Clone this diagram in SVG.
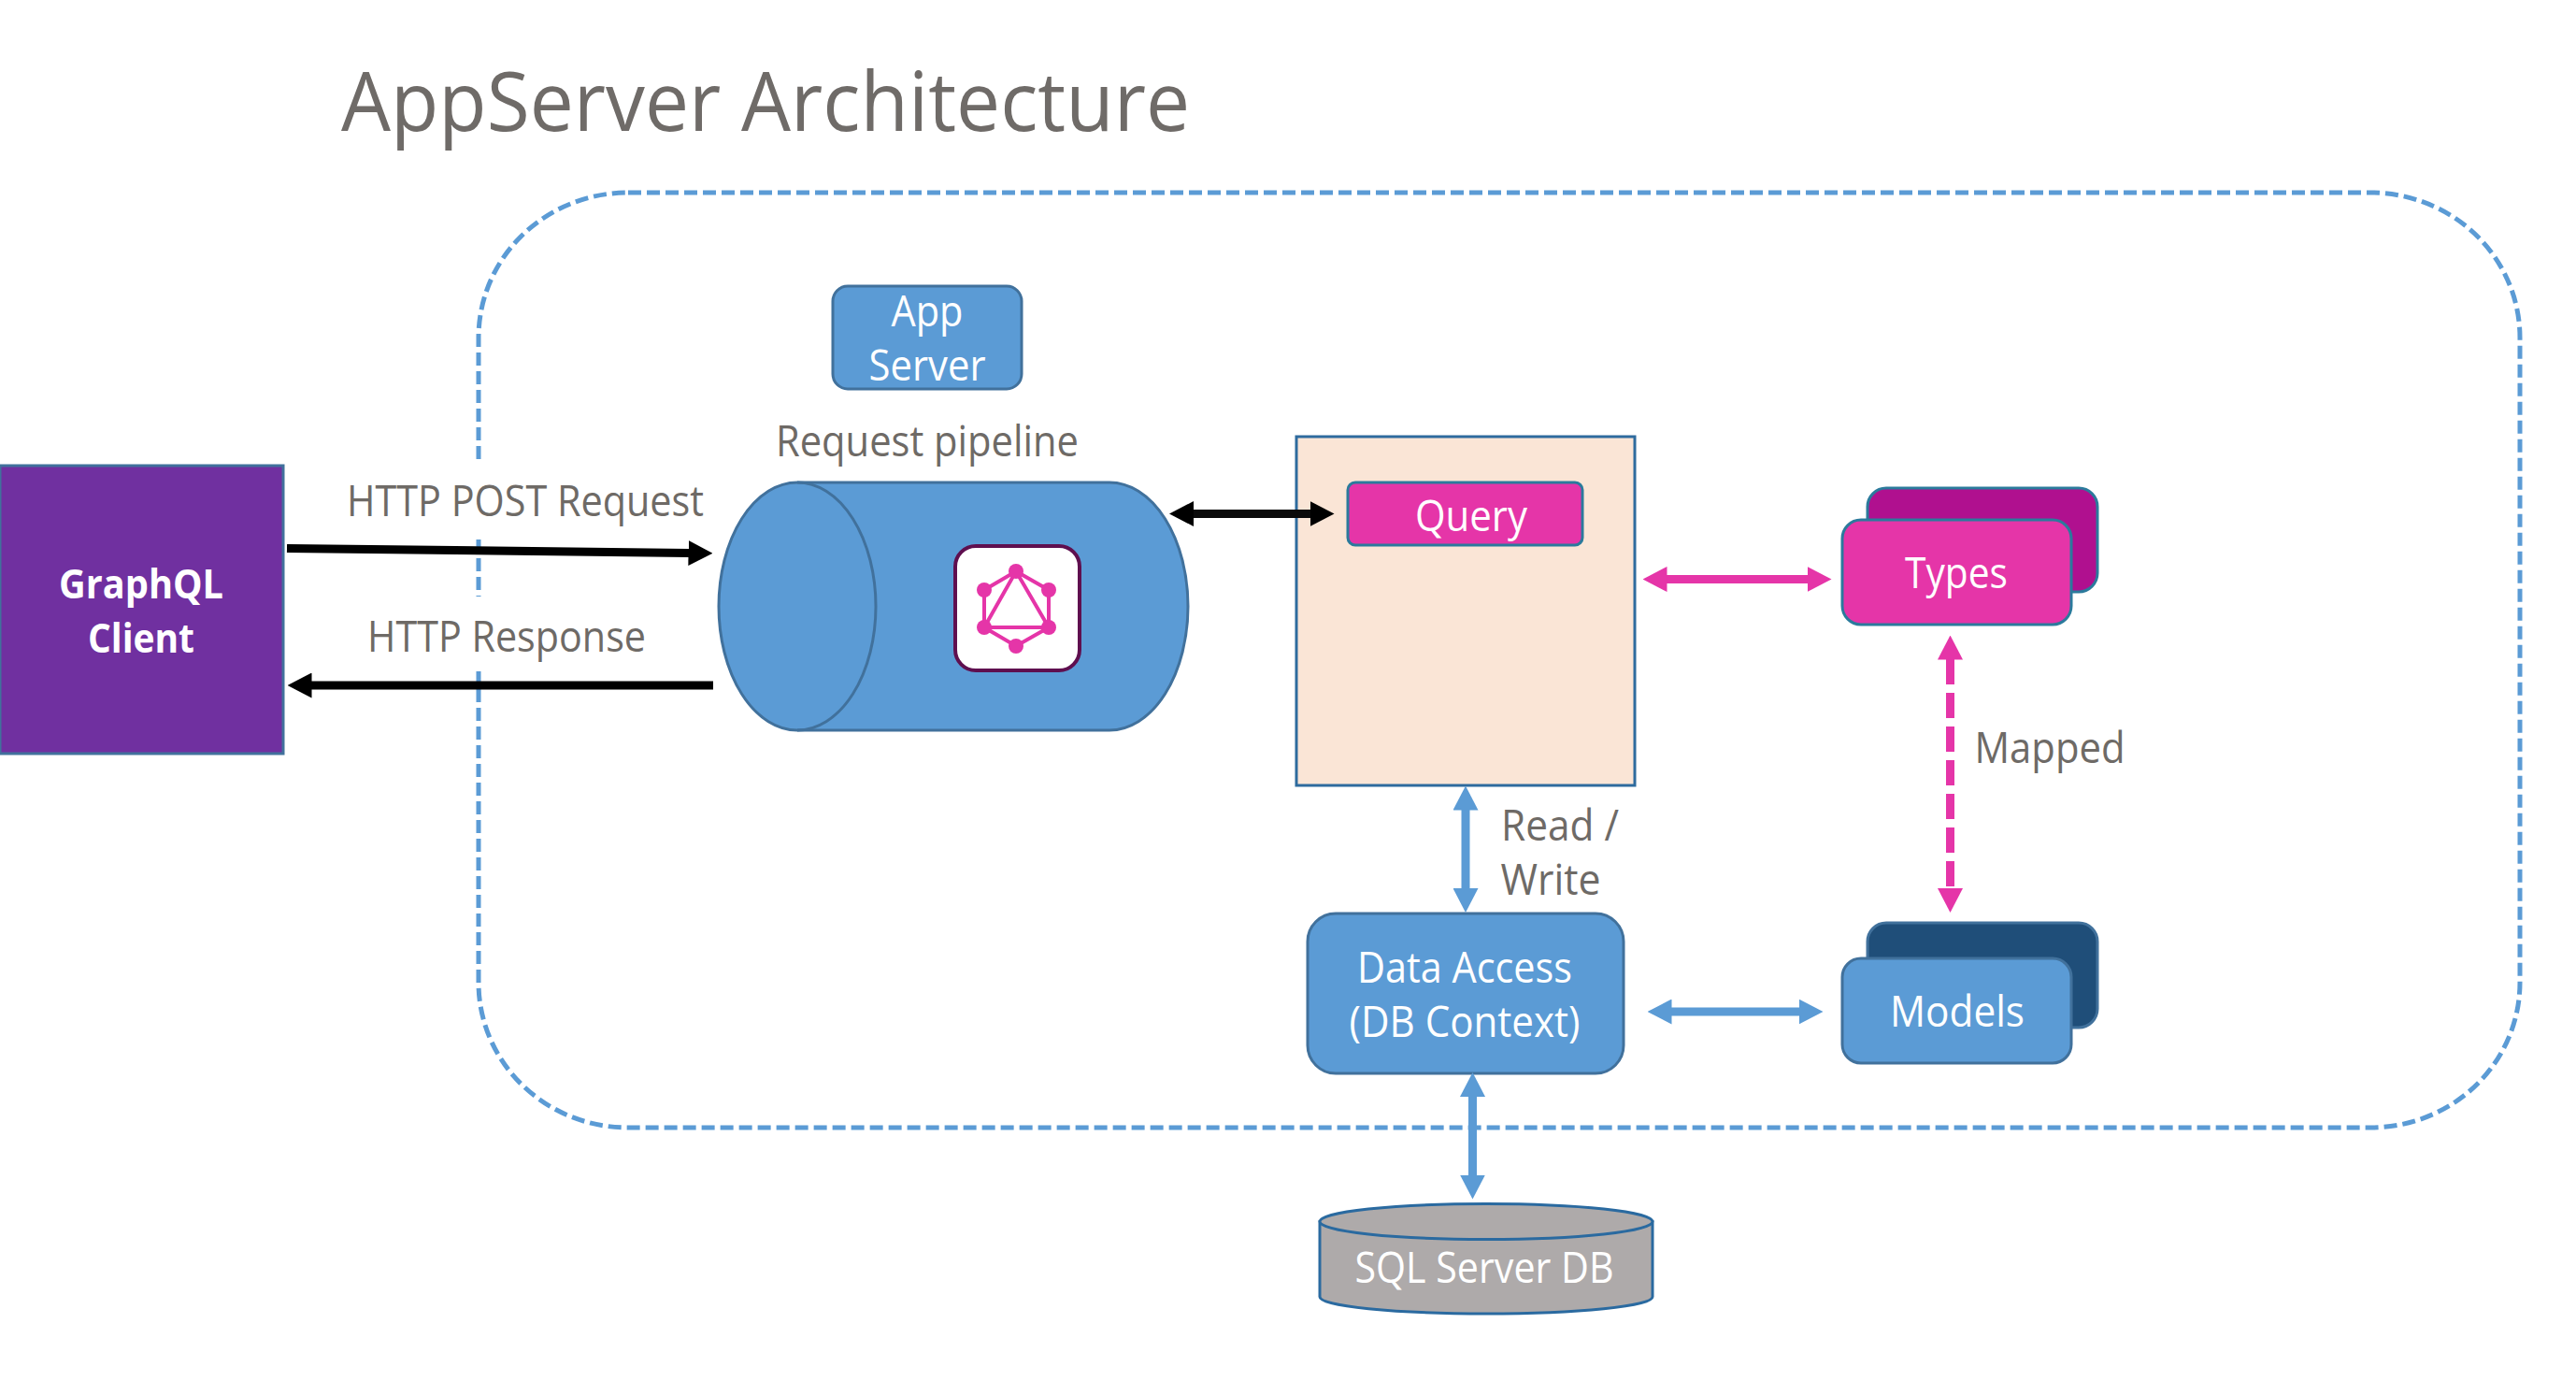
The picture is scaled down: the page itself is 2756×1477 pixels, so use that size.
<svg xmlns="http://www.w3.org/2000/svg" width="2756" height="1477" viewBox="0 0 2756 1477">
<style>
text{font-family:"Open Sans","Noto Sans","Liberation Sans",sans-serif;font-size:45px;text-anchor:middle;fill:#fff}
.lbl{fill:#6e6a66}
.title{font-size:87px;fill:#6f6b68;text-anchor:start}
.b{font-weight:700;font-size:43px}
.edge{stroke:#41719c;stroke-width:3}
.blue{fill:#5b9bd5}
.pink{fill:#e535a8;stroke:#2b7a9c;stroke-width:3}
.ln{fill:none;stroke-width:9}
.gq{stroke:#e535a8;stroke-width:4}
.gn{fill:#e535a8}
</style>
<defs>
<marker id="hk" markerUnits="userSpaceOnUse" viewBox="0 0 26 27" markerWidth="26" markerHeight="27" refX="0.5" refY="13.500" orient="auto-start-reverse"><path d="M0 0L26 13.500L0 27Z" fill="#000"/></marker>
<marker id="hp" markerUnits="userSpaceOnUse" viewBox="0 0 26 27" markerWidth="26" markerHeight="27" refX="0.5" refY="13.500" orient="auto-start-reverse"><path d="M0 0L26 13.500L0 27Z" fill="#e535a8"/></marker>
<marker id="hb" markerUnits="userSpaceOnUse" viewBox="0 0 26 27" markerWidth="26" markerHeight="27" refX="0.5" refY="13.500" orient="auto-start-reverse"><path d="M0 0L26 13.500L0 27Z" fill="#5b9bd5"/></marker>
</defs>
<rect width="2756" height="1477" fill="#fff"/>
<text class="title" x="365" y="140" textLength="908" lengthAdjust="spacingAndGlyphs">AppServer Architecture</text>
<g id="appserver-boundary">
<rect x="512" y="206" width="2184" height="1000" rx="160" ry="155" fill="none" stroke="#5b9bd5" stroke-width="5" stroke-dasharray="14 6"/>
</g>
<g id="label-http-post">
<rect x="371" y="493" width="382" height="84" fill="#fff"/>
<text class="lbl" x="562" y="552" textLength="382" lengthAdjust="spacingAndGlyphs">HTTP POST Request</text>
</g>
<g id="label-http-response">
<rect x="393" y="638" width="298" height="80" fill="#fff"/>
<text class="lbl" x="542" y="697" textLength="298" lengthAdjust="spacingAndGlyphs">HTTP Response</text>
</g>
<g id="graphql-client">
<rect x="0" y="498" width="303" height="308" fill="#7030a0" class="edge"/>
<text class="b" x="151" y="640" textLength="176" lengthAdjust="spacingAndGlyphs">GraphQL</text>
<text class="b" x="151" y="698" textLength="114" lengthAdjust="spacingAndGlyphs">Client</text>
</g>
<g id="app-server">
<rect x="891" y="306" width="202" height="110" rx="16" class="blue edge"/>
<text x="992" y="349" textLength="77" lengthAdjust="spacingAndGlyphs">App</text>
<text x="992" y="407" textLength="125" lengthAdjust="spacingAndGlyphs">Server</text>
</g>
<g id="request-pipeline">
<text class="lbl" x="992" y="488" textLength="324" lengthAdjust="spacingAndGlyphs">Request pipeline</text>
<path d="M853 516H1187A84 132.500 0 0 1 1187 781H853A84 132.500 0 0 1 853 516Z" class="blue edge"/>
<path d="M853 516A84 132.500 0 0 1 853 781" fill="none" class="edge"/>
<rect x="1022" y="584" width="133" height="133" rx="22" fill="#fff" stroke="#5f0f4f" stroke-width="4"/>
<g class="gq" fill="none">
<path d="M1087 611L1122 631V671L1087 691L1053 671V631Z"/>
<path d="M1087 611L1122 671H1053Z"/>
</g>
<g class="gn">
<circle cx="1087" cy="611" r="8"/><circle cx="1053" cy="631" r="8"/><circle cx="1122" cy="631" r="8"/>
<circle cx="1053" cy="671" r="8"/><circle cx="1122" cy="671" r="8"/><circle cx="1087" cy="691" r="8"/>
</g>
</g>
<g id="query-panel">
<rect x="1387" y="467" width="362" height="373" fill="#fae5d6" stroke="#2e6b9e" stroke-width="3"/>
</g>
<g id="query">
<rect x="1442" y="516" width="251" height="67" rx="8" class="pink"/>
<text x="1574" y="568" textLength="120" lengthAdjust="spacingAndGlyphs">Query</text>
</g>
<g id="types">
<rect x="1998" y="522" width="246" height="111" rx="20" fill="#b0108f" stroke="#2b7a9c" stroke-width="3"/>
<rect x="1971" y="556" width="245" height="112" rx="20" class="pink"/>
<text x="2093" y="629" textLength="110" lengthAdjust="spacingAndGlyphs">Types</text>
</g>
<g id="data-access">
<rect x="1399" y="977" width="338" height="171" rx="30" class="blue edge"/>
<text x="1567" y="1051" textLength="230" lengthAdjust="spacingAndGlyphs">Data Access</text>
<text x="1567" y="1109" textLength="247" lengthAdjust="spacingAndGlyphs">(DB Context)</text>
</g>
<g id="models">
<rect x="1998" y="987" width="246" height="112" rx="20" fill="#1f4e79" class="edge"/>
<rect x="1971" y="1025" width="245" height="112" rx="20" class="blue edge"/>
<text x="2094" y="1098" textLength="144" lengthAdjust="spacingAndGlyphs">Models</text>
</g>
<g id="sql-server-db">
<path d="M1412 1306.500V1387C1412 1397 1492 1405 1590 1405S1768 1397 1768 1387V1306.500Z" fill="#aeaaaa" stroke="#2a6aa0" stroke-width="3"/>
<ellipse cx="1590" cy="1306.500" rx="178" ry="19" fill="#aeaaaa" stroke="#2a6aa0" stroke-width="3"/>
<text x="1588" y="1372" textLength="277" lengthAdjust="spacingAndGlyphs">SQL Server DB</text>
</g>
<g id="labels">
<text class="lbl" x="1669" y="899" textLength="126" lengthAdjust="spacingAndGlyphs">Read /</text>
<text class="lbl" x="1659" y="957" textLength="107" lengthAdjust="spacingAndGlyphs">Write</text>
<text class="lbl" x="2193" y="816" textLength="161" lengthAdjust="spacingAndGlyphs">Mapped</text>
</g>
<g id="connectors" class="ln">
<path d="M307 586.500L737 591.500" stroke="#000" marker-end="url(#hk)"/>
<path d="M763 733H333" stroke="#000" marker-end="url(#hk)"/>
<path d="M1276.500 549.500H1402" stroke="#0a0a0a" marker-start="url(#hk)" marker-end="url(#hk)"/>
<path d="M1783 619.500H1934" stroke="#e535a8" marker-start="url(#hp)" marker-end="url(#hp)"/>
<path d="M2086.500 705V950.500" stroke="#e535a8" stroke-dasharray="27 9" marker-start="url(#hp)" marker-end="url(#hp)"/>
<path d="M1568 866V950.500" stroke="#5b9bd5" marker-start="url(#hb)" marker-end="url(#hb)"/>
<path d="M1788 1082H1925" stroke="#5b9bd5" marker-start="url(#hb)" marker-end="url(#hb)"/>
<path d="M1575.500 1172.500V1257" stroke="#5b9bd5" marker-start="url(#hb)" marker-end="url(#hb)"/>
</g>
</svg>
